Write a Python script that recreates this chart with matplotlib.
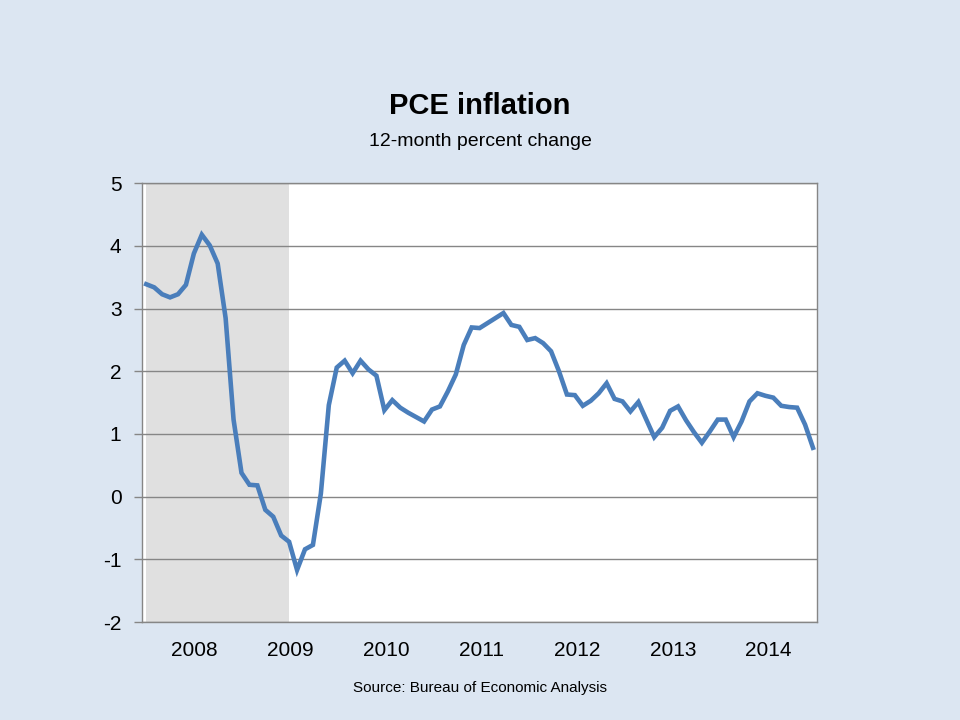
import matplotlib
matplotlib.use("Agg")
import matplotlib.pyplot as plt

# Monthly PCE inflation, Dec 2007 - Dec 2014 (12-month percent change)
values = [3.39, 3.34, 3.23, 3.18, 3.23, 3.38, 3.88, 4.18, 4.01, 3.72,
          2.85, 1.23, 0.38, 0.19, 0.18, -0.21, -0.32, -0.62, -0.72, -1.17,
          -0.84, -0.77, 0.05, 1.46, 2.06, 2.17, 1.97, 2.17, 2.03, 1.93,
          1.38, 1.54, 1.42, 1.34, 1.27, 1.20, 1.39, 1.44, 1.68, 1.95,
          2.42, 2.70, 2.69, 2.77, 2.85, 2.93, 2.74, 2.71, 2.50, 2.53,
          2.45, 2.32, 2.00, 1.63, 1.62, 1.45, 1.53, 1.65, 1.81, 1.56,
          1.52, 1.36, 1.51, 1.23, 0.95, 1.10, 1.37, 1.44, 1.22, 1.03,
          0.86, 1.04, 1.23, 1.23, 0.95, 1.20, 1.52, 1.65, 1.61, 1.58,
          1.45, 1.43, 1.42, 1.15, 0.78]
year_labels = ["2008", "2009", "2010", "2011", "2012", "2013", "2014"]
y_ticks = [-2, -1, 0, 1, 2, 3, 4, 5]
recession = (0, 18)  # Dec 2007 - Jun 2009, in month index

bg = "#DCE6F2"
line_c = "#4A7EBB"
grid_c = "#868686"

plt.rcParams['font.family'] = ['Liberation Sans', 'DejaVu Sans']

fig = plt.figure(figsize=(9.6, 7.2), dpi=100, facecolor=bg)
ax = fig.add_axes([0.1482, 0.1361, 0.851 - 0.1482, 0.7454 - 0.1361])
ax.set_facecolor("white")

x = list(range(len(values)))
ax.axvspan(recession[0], recession[1], color="#E0E0E0", lw=0, zorder=0)
for yv in y_ticks:
    ax.axhline(yv, color=grid_c, lw=1.0, zorder=1)
ax.plot(x, values, color=line_c, lw=3.3, solid_joinstyle="miter", zorder=3)

ax.set_xlim(-0.5, 84.5)
ax.set_ylim(-2, 5)
ax.set_yticks(y_ticks)
ax.set_yticklabels([str(v) for v in y_ticks], fontsize=15)
ax.set_xticks([6.1 + 12.05 * k for k in range(len(year_labels))])
ax.set_xticklabels(year_labels, fontsize=15)
ax.tick_params(axis='y', length=6, width=1, color=grid_c, pad=9)
ax.tick_params(axis='x', length=0, pad=14)
for s in ax.spines.values():
    s.set_color(grid_c)
    s.set_linewidth(1.0)

fig.text(0.5, 1 - 114 / 720, "PCE inflation", ha="center", va="baseline",
         fontsize=21, fontweight="bold")
fig.text(0.5, 1 - 133 / 720, "12-month percent change", ha="center",
         va="top", fontsize=14)
fig.text(0.5, 1 - 688 / 720, "Source: Bureau of Economic Analysis",
         ha="center", va="center", fontsize=11)

fig.savefig("out.png", dpi=100, facecolor=bg)
